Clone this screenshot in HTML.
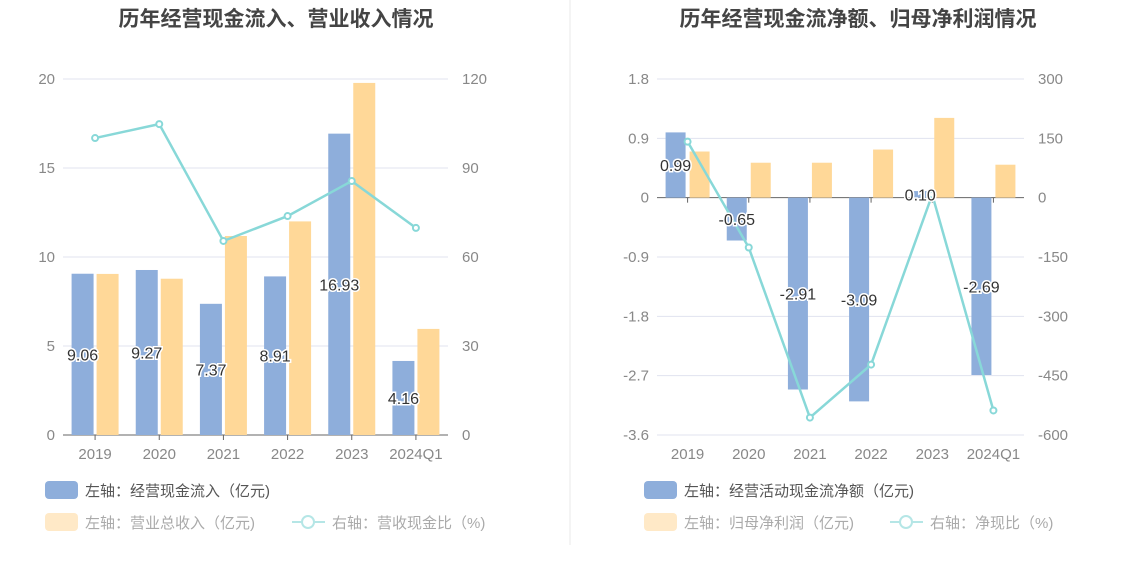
<!DOCTYPE html>
<html><head><meta charset="utf-8"><style>
body{margin:0;background:#fff;font-family:"Liberation Sans","Noto Sans CJK SC",sans-serif;}
svg text{font-family:"Liberation Sans","Noto Sans CJK SC",sans-serif;}
</style></head><body>
<svg id="s" width="1134" height="582" xmlns="http://www.w3.org/2000/svg">
<line x1="570" y1="0" x2="570" y2="545" stroke="#e8e8e8"/>
<text x="276" y="26" text-anchor="middle" font-size="21" font-weight="bold" fill="#444">历年经营现金流入、营业收入情况</text>
<text x="858" y="26" text-anchor="middle" font-size="21" font-weight="bold" fill="#444">历年经营现金流净额、归母净利润情况</text>
<g id="L"></g><g id="R"></g>
<g font-size="15">
<rect x="45" y="481" width="33" height="18" rx="4" fill="#8eaedb"/>
<text x="85" y="496" fill="#555">左轴：经营现金流入（亿元)</text>
<rect x="45" y="513" width="33" height="18" rx="4" fill="#ffe9c7"/>
<text x="85" y="528" fill="#aaa">左轴：营业总收入（亿元)</text>
<line x1="292" y1="522" x2="325" y2="522" stroke="#b5e6e6" stroke-width="2"/><circle cx="308" cy="522" r="6" fill="#fff" stroke="#b5e6e6" stroke-width="2"/>
<text x="332" y="528" fill="#aaa">右轴：营收现金比（%)</text>
</g>
<g font-size="15">
<rect x="644" y="481" width="33" height="18" rx="4" fill="#8eaedb"/>
<text x="684" y="496" fill="#555">左轴：经营活动现金流净额（亿元)</text>
<rect x="644" y="513" width="33" height="18" rx="4" fill="#ffe9c7"/>
<text x="684" y="528" fill="#aaa">左轴：归母净利润（亿元)</text>
<line x1="890" y1="522" x2="923" y2="522" stroke="#b5e6e6" stroke-width="2"/><circle cx="906" cy="522" r="6" fill="#fff" stroke="#b5e6e6" stroke-width="2"/>
<text x="930" y="528" fill="#aaa">右轴：净现比（%)</text>
</g>
</svg>
<script>
const categories=["2019","2020","2021","2022","2023","2024Q1"];
const cashInflow=[9.06,9.27,7.37,8.91,16.93,4.16];
const revenue=[9.05,8.78,11.18,12.0,19.78,5.96];
const revCashRatio=[100.1,104.8,65.4,73.8,85.6,69.8];
const leftTicks1=[0,5,10,15,20];
const rightTicks1=[0,30,60,90,120];
const netCash=[0.99,-0.65,-2.91,-3.09,0.10,-2.69];
const netProfit=[0.70,0.53,0.53,0.73,1.21,0.50];
const netRatio=[141.6,-126,-556,-422,7.6,-538];
const leftTicks2=[1.8,0.9,0,-0.9,-1.8,-2.7,-3.6];
const rightTicks2=[300,150,0,-150,-300,-450,-600];
const NS="http://www.w3.org/2000/svg";
function mk(p,t,a){const e=document.createElementNS(NS,t);for(const k in a)e.setAttribute(k,a[k]);p.appendChild(e);return e;}
function chart(g,cfg){
 const {x0,x1,yTop,yBot,lmin,lmax,rmin,rmax,lt,rt,b1,b2,ln,fmt,bw,gap}=cfg;
 const yl=v=>yBot-(v-lmin)/(lmax-lmin)*(yBot-yTop);
 const yr=v=>yBot-(v-rmin)/(rmax-rmin)*(yBot-yTop);
 const step=(x1-x0)/categories.length;
 const xc=i=>x0+step*(i+0.5);
 lt.forEach((v,i)=>{
  const y=yl(v);
  const gl=mk(g,'line',{x1:x0,x2:x1,y1:y,y2:y,stroke:v===0?'#666':'#e0e3ef'});
  
  const t=mk(g,'text',{x:x0-8,y:y+5,'text-anchor':'end','font-size':15,fill:'#888'});t.textContent=fmt(v);
  
 });
 rt.forEach(v=>{const t=mk(g,'text',{x:x1+14,y:yr(v)+5,'font-size':15,fill:'#888'});t.textContent=v;
  });
 const zy=yl(0);
 categories.forEach((c,i)=>{
  const t=mk(g,'text',{x:xc(i),y:yBot+24,'text-anchor':'middle','font-size':15,fill:'#888'});t.textContent=c;
  
  mk(g,'line',{x1:xc(i),x2:xc(i),y1:zy,y2:zy+5,stroke:'#666'});
  let y=yl(b1[i]);
  const r=mk(g,'rect',{x:xc(i)-gap/2-bw,y:Math.min(y,zy),width:bw,height:Math.abs(zy-y),fill:'#8eaedb'});
  
  let y2=yl(b2[i]);
  const r2=mk(g,'rect',{x:xc(i)+gap/2,y:Math.min(y2,zy),width:bw,height:Math.abs(zy-y2),fill:'#ffd898'});
  
 });
 const pts=ln.map((v,i)=>xc(i)+','+yr(v)).join(' ');
 const pl=mk(g,'polyline',{points:pts,fill:'none',stroke:'#88d8d8','stroke-width':2.5});
 
 ln.forEach((v,i)=>{const p=mk(g,'circle',{cx:xc(i),cy:yr(v),r:3,fill:'#fff',stroke:'#88d8d8','stroke-width':2});
  });
 b1.forEach((v,i)=>{
  const ym=(yl(v)+zy)/2;
  const t=mk(g,'text',{x:xc(i)-gap/2-bw/2,y:ym+6,'text-anchor':'middle','font-size':16,fill:'#333',stroke:'#fff','stroke-width':3,'paint-order':'stroke'});
  t.textContent=v.toFixed(2);
  
 });
}
chart(document.getElementById('L'),{x0:63,x1:448,yTop:79,yBot:435,lmin:0,lmax:20,rmin:0,rmax:120,lt:leftTicks1,rt:rightTicks1,b1:cashInflow,b2:revenue,ln:revCashRatio,fmt:v=>v,bw:22,gap:3});
chart(document.getElementById('R'),{x0:657,x1:1024,yTop:79,yBot:435,lmin:-3.6,lmax:1.8,rmin:-600,rmax:300,lt:leftTicks2,rt:rightTicks2,b1:netCash,b2:netProfit,ln:netRatio,fmt:v=>v===0?'0':v.toFixed(1),bw:20,gap:4});
</script>
</body></html>
